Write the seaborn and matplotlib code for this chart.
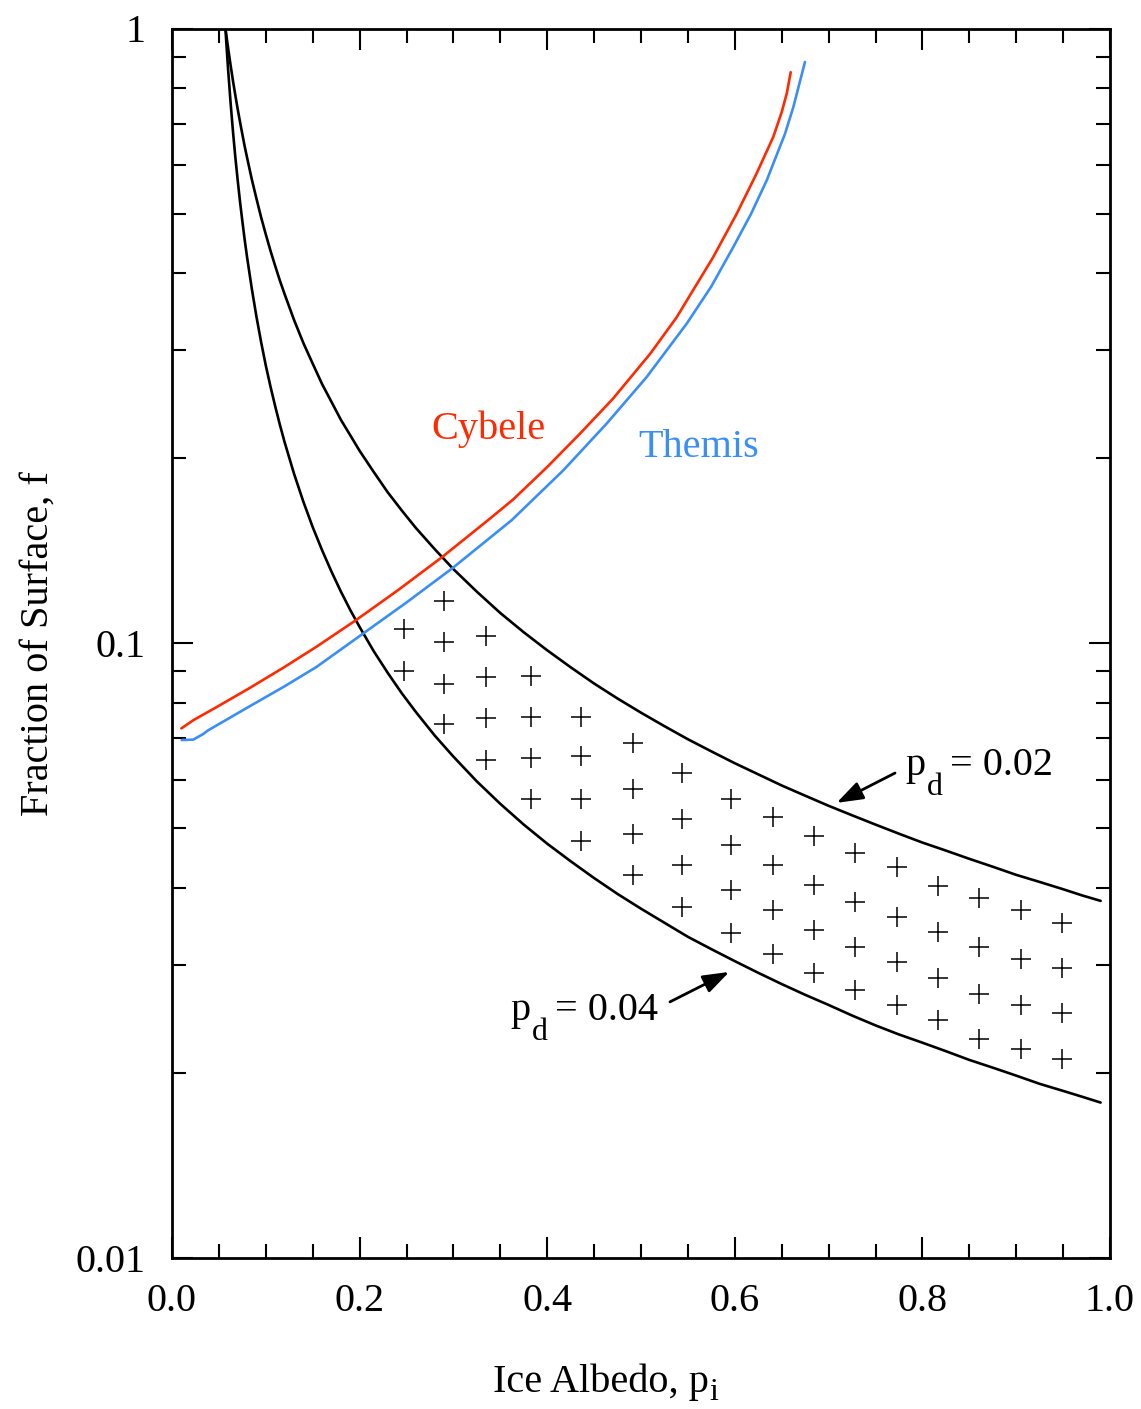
import numpy as np
import pandas as pd
import matplotlib
matplotlib.use("Agg")
import matplotlib.pyplot as plt
import seaborn as sns
from matplotlib.ticker import LogLocator, MultipleLocator, NullFormatter

# ---------------- data ----------------
albedo_grid = [0.057, 0.0575, 0.058, 0.059, 0.06, 0.0625, 0.065, 0.0675, 0.07, 0.0725, 0.075,
               0.0775, 0.08, 0.085, 0.09, 0.095, 0.10, 0.105, 0.11, 0.115, 0.12, 0.13, 0.14,
               0.15, 0.16, 0.17, 0.18, 0.19, 0.20, 0.215, 0.23, 0.245, 0.26, 0.28, 0.30, 0.325,
               0.35, 0.375, 0.40, 0.425, 0.45, 0.475, 0.50, 0.525, 0.55, 0.575, 0.60, 0.625,
               0.65, 0.675, 0.70, 0.725, 0.75, 0.775, 0.80, 0.825, 0.85, 0.875, 0.90, 0.925,
               0.95, 0.97, 0.99]
pd02_f = [1.0, 0.987, 0.974, 0.949, 0.925, 0.871, 0.822, 0.779, 0.74, 0.705, 0.673, 0.643,
          0.617, 0.569, 0.529, 0.493, 0.4625, 0.435, 0.411, 0.389, 0.37, 0.336, 0.308, 0.285,
          0.264, 0.247, 0.231, 0.218, 0.2056, 0.190, 0.176, 0.1644, 0.154, 0.1423, 0.132,
          0.1213, 0.112, 0.1042, 0.0974, 0.0914, 0.0860, 0.0813, 0.0771, 0.0733, 0.0698,
          0.0667, 0.0638, 0.0612, 0.0587, 0.0565, 0.0544, 0.0525, 0.0507, 0.0490, 0.0474,
          0.0460, 0.0446, 0.0433, 0.0420, 0.0409, 0.0398, 0.0389, 0.0381]
pd04_f = [1.0, 0.971, 0.944, 0.895, 0.85, 0.756, 0.68, 0.618, 0.567, 0.523, 0.486, 0.453,
          0.425, 0.378, 0.34, 0.309, 0.283, 0.2615, 0.243, 0.2267, 0.2125, 0.1889, 0.17,
          0.1545, 0.1417, 0.1308, 0.1214, 0.1133, 0.1063, 0.0971, 0.0895, 0.0829, 0.0773,
          0.0708, 0.0654, 0.0596, 0.0548, 0.0507, 0.0472, 0.0442, 0.0415, 0.0391, 0.0370,
          0.0351, 0.0333, 0.0318, 0.0304, 0.0291, 0.0279, 0.0268, 0.0258, 0.0248, 0.0239,
          0.0231, 0.0224, 0.0217, 0.0210, 0.0204, 0.0198, 0.0192, 0.0187, 0.0183, 0.0179]

cybele_x = [0.010, 0.023, 0.048, 0.083, 0.120, 0.154, 0.196, 0.240, 0.288, 0.339, 0.364,
            0.400, 0.435, 0.470, 0.510, 0.538, 0.577, 0.602, 0.623, 0.641, 0.650, 0.6555, 0.6596]
cybele_f = [0.0727, 0.0750, 0.0788, 0.0846, 0.0915, 0.0987, 0.1090, 0.1217, 0.1381, 0.1595,
            0.1715, 0.1935, 0.2193, 0.2498, 0.2960, 0.3390, 0.4248, 0.4995, 0.5800, 0.6660,
            0.7310, 0.7850, 0.8490]

themis_x = [0.0103, 0.0227, 0.0334, 0.0387, 0.083, 0.120, 0.154, 0.203, 0.250, 0.2988, 0.362,
            0.417, 0.4634, 0.506, 0.5487, 0.575, 0.598, 0.617, 0.634, 0.6535, 0.6624, 0.6748]
themis_f = [0.0696, 0.0697, 0.0712, 0.0722, 0.0790, 0.0851, 0.0915, 0.1035, 0.1165, 0.1324,
            0.1585, 0.1910, 0.2277, 0.2710, 0.3310, 0.3806, 0.4400, 0.4983, 0.5660, 0.6740,
            0.7450, 0.8820]

plus_col_x = [0.2473, 0.2903, 0.3348, 0.3830, 0.4364, 0.4911, 0.5437, 0.5959,
              0.6411, 0.6844, 0.7285, 0.7729, 0.8170, 0.8607, 0.9051, 0.9492]
plus_col_f = [
    [0.1053, 0.0902],
    [0.1172, 0.1005, 0.0860, 0.0738],
    [0.1028, 0.0882, 0.0756, 0.0645],
    [0.0885, 0.0759, 0.0651, 0.0557],
    [0.0759, 0.0656, 0.0557, 0.0477],
    [0.0688, 0.0580, 0.0490, 0.0420],
    [0.0614, 0.0517, 0.0436, 0.0373],
    [0.0557, 0.0469, 0.0397, 0.0338],
    [0.0521, 0.0436, 0.0368, 0.0312],
    [0.0486, 0.0404, 0.0341, 0.0291],
    [0.0456, 0.0380, 0.0320, 0.0273],
    [0.0433, 0.0359, 0.0303, 0.0258],
    [0.0403, 0.0339, 0.0285, 0.0244],
    [0.0385, 0.0320, 0.0269, 0.0227],
    [0.0368, 0.0306, 0.0258, 0.0219],
    [0.0351, 0.0296, 0.0250, 0.0211],
]

x_ticks = [0.0, 0.2, 0.4, 0.6, 0.8, 1.0]
y_ticks = [0.01, 0.1, 1.0]
y_tick_labels = ["0.01", "0.1", "1"]

# ---------------- style ----------------
sns.set_theme(style="ticks")
plt.rcParams["font.family"] = ["Liberation Serif", "DejaVu Serif"]
plt.rcParams["text.color"] = "black"
plt.rcParams["axes.labelcolor"] = "black"

FS = 29
SUB_FS = 23
RED = "#ff2a00"
BLUE = "#3a8ef8"

W, H = 1141, 1409
fig = plt.figure(figsize=(W / 100, H / 100), dpi=100)
ax = fig.add_axes([172 / W, 1 - 1258 / H, (1110 - 172) / W, (1258 - 28.5) / H])

sns.lineplot(x=albedo_grid, y=pd02_f, ax=ax, color="black", lw=1.9, sort=False, estimator=None)
sns.lineplot(x=albedo_grid, y=pd04_f, ax=ax, color="black", lw=1.9, sort=False, estimator=None)
sns.lineplot(x=cybele_x, y=cybele_f, ax=ax, color=RED, lw=1.9, sort=False, estimator=None)
sns.lineplot(x=themis_x, y=themis_f, ax=ax, color=BLUE, lw=1.9, sort=False, estimator=None)

plus_df = pd.DataFrame(
    [(x, f) for x, col in zip(plus_col_x, plus_col_f) for f in col], columns=["x", "f"]
)
sns.scatterplot(data=plus_df, x="x", y="f", ax=ax, marker="+", s=190, color="black",
                linewidth=1.1, legend=False)

ax.set_yscale("log")
ax.set_xlim(0, 1.0)
ax.set_ylim(0.01, 1.0)

ax.set_xticks(x_ticks)
ax.set_xticklabels([f"{v:.1f}" for v in x_ticks])
ax.xaxis.set_minor_locator(MultipleLocator(0.05))
ax.set_yticks(y_ticks)
ax.set_yticklabels(y_tick_labels)
ax.yaxis.set_minor_locator(LogLocator(base=10, subs=range(2, 10), numticks=20))
ax.yaxis.set_minor_formatter(NullFormatter())

ax.tick_params(which="both", direction="in", top=True, right=True, colors="black",
               width=1.5, labelsize=FS)
ax.tick_params(which="major", length=15)
ax.tick_params(which="minor", length=10)
ax.tick_params(axis="x", which="major", pad=18)
ax.tick_params(axis="y", which="major", pad=19)
for s in ax.spines.values():
    s.set_linewidth(2)
    s.set_color("black")

ax.set_xlabel("")
ax.set_ylabel("Fraction of Surface, f", fontsize=FS, labelpad=14, color="black")

# x-axis title with a real subscript
fig.text(493 / W, 1 - 1392 / H, "Ice Albedo, p", fontsize=FS, ha="left", va="baseline")
fig.text(709 / W, 1 - 1400 / H, "i", fontsize=SUB_FS, ha="left", va="baseline")

# curve labels
ax.text(0.2769, 0.2152, "Cybele", color=RED, fontsize=FS, ha="left", va="baseline")
ax.text(0.4971, 0.2009, "Themis", color=BLUE, fontsize=FS, ha="left", va="baseline")


def pd_label(x, y, value):
    ax.annotate("p", xy=(x, y), fontsize=FS, ha="left", va="baseline")
    ax.annotate("d", xy=(x, y), xytext=(15.6, -14.4), textcoords="offset points",
                fontsize=SUB_FS, ha="left", va="baseline")
    ax.annotate("= " + value, xy=(x, y), xytext=(32.4, 0), textcoords="offset points",
                fontsize=FS, ha="left", va="baseline")


arrow = dict(arrowstyle="-|>,head_length=0.8,head_width=0.28", color="black", lw=2,
             mutation_scale=20, shrinkA=0, shrinkB=0)
ax.annotate("", xy=(0.7086, 0.0550), xytext=(0.7708, 0.0615), arrowprops=arrow)
pd_label(0.7814, 0.0610, "0.02")
ax.annotate("", xy=(0.5941, 0.0292), xytext=(0.5309, 0.0261), arrowprops=arrow)
pd_label(0.3603, 0.02438, "0.04")

fig.savefig("out.png", dpi=100)
